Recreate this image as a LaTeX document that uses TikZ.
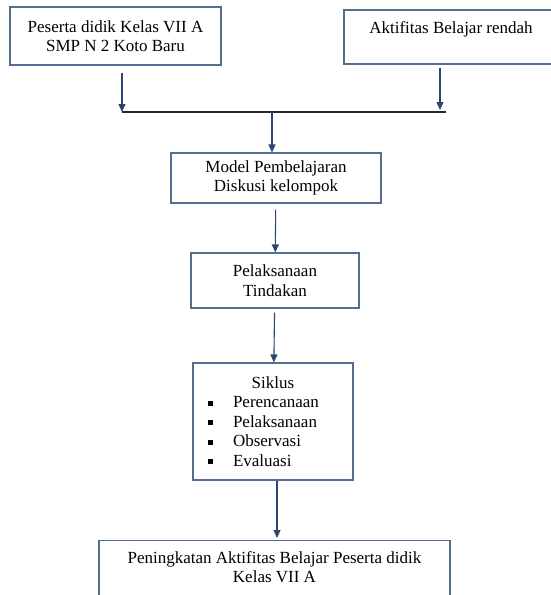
\documentclass[tikz,border=0pt]{standalone}
\usepackage{fontspec}
\setmainfont{Liberation Serif}
\usepackage{xcolor}
\usepackage{tikz}
\usetikzlibrary{positioning}
\usetikzlibrary{calc}
\usetikzlibrary{arrows.meta}
\definecolor{garis}{RGB}{44,70,110}
\definecolor{tepi}{RGB}{84,110,145}
\definecolor{hitam}{RGB}{40,40,40}
\def\blt{\hspace*{15pt}\rule[2pt]{5pt}{5pt}\hspace{20pt}}
\tikzstyle{line} = [draw=garis, line width=1.1pt, -{Triangle[length=8pt,width=7pt]}]

\begin{document}
\begin{tikzpicture}[x=1pt, y=-1pt,
		box/.style={draw=tepi, line width=1.1pt, rectangle, align=center,
			font=\fontsize{17}{19.5}\selectfont, inner sep=0pt}]
		\useasboundingbox (0,0) rectangle (551,595);
		\clip (0,0) rectangle (551,595);
		\node [box, minimum width=211, minimum height=58] (peserta) at (115.5,36) {Peserta didik Kelas VII A\\ SMP N 2 Koto Baru};
		\node [box, minimum width=214, minimum height=54] (aktif) at (451,37) {Aktifitas Belajar rendah\\ \mbox{}};
		\node [box, minimum width=210, minimum height=50] (model) at (276,178) {Model Pembelajaran\\ Diskusi kelompok};
		\node [box, minimum width=168, minimum height=55] (tindakan) at (275,280.5) {Pelaksanaan\\ Tindakan};
		\node [box, minimum width=160, minimum height=117, text width=160, align=left] (siklus) at (273,421.5) {\makebox[160pt]{Siklus}\\
			\blt Perencanaan\\
			\blt Pelaksanaan\\
			\blt Observasi\\
			\blt Evaluasi};
		\node [box, minimum width=351, minimum height=72, anchor=north] (hasil) at (274.5,540) {Peningkatan Aktifitas Belajar Peserta didik\\ Kelas VII A\\ \mbox{}};
		%% Links
		\coordinate (jl) at (122,112);
		\coordinate (jr) at (446,112);
		\coordinate (jc) at (272,112);
		\path [line, shorten <=7pt] (peserta.south -| jl) to (jl);
		\path [line, shorten <=3pt, shorten >=2pt] (aktif.south -| 440,0) to (jr -| 440,0);
		\draw [hitam, line width=1.1pt] (jl) -- (jr);
		\path [line] (jc) to (model.north -| jc);
		\path [line, shorten <=6pt] (model) to (tindakan);
		\path [line, shorten <=4pt] (tindakan) to (siklus);
		\path [line, shorten >=2pt] (siklus.south -| 277,0) to (hasil.north -| 277,0);
		\end{tikzpicture}
\end{document}
